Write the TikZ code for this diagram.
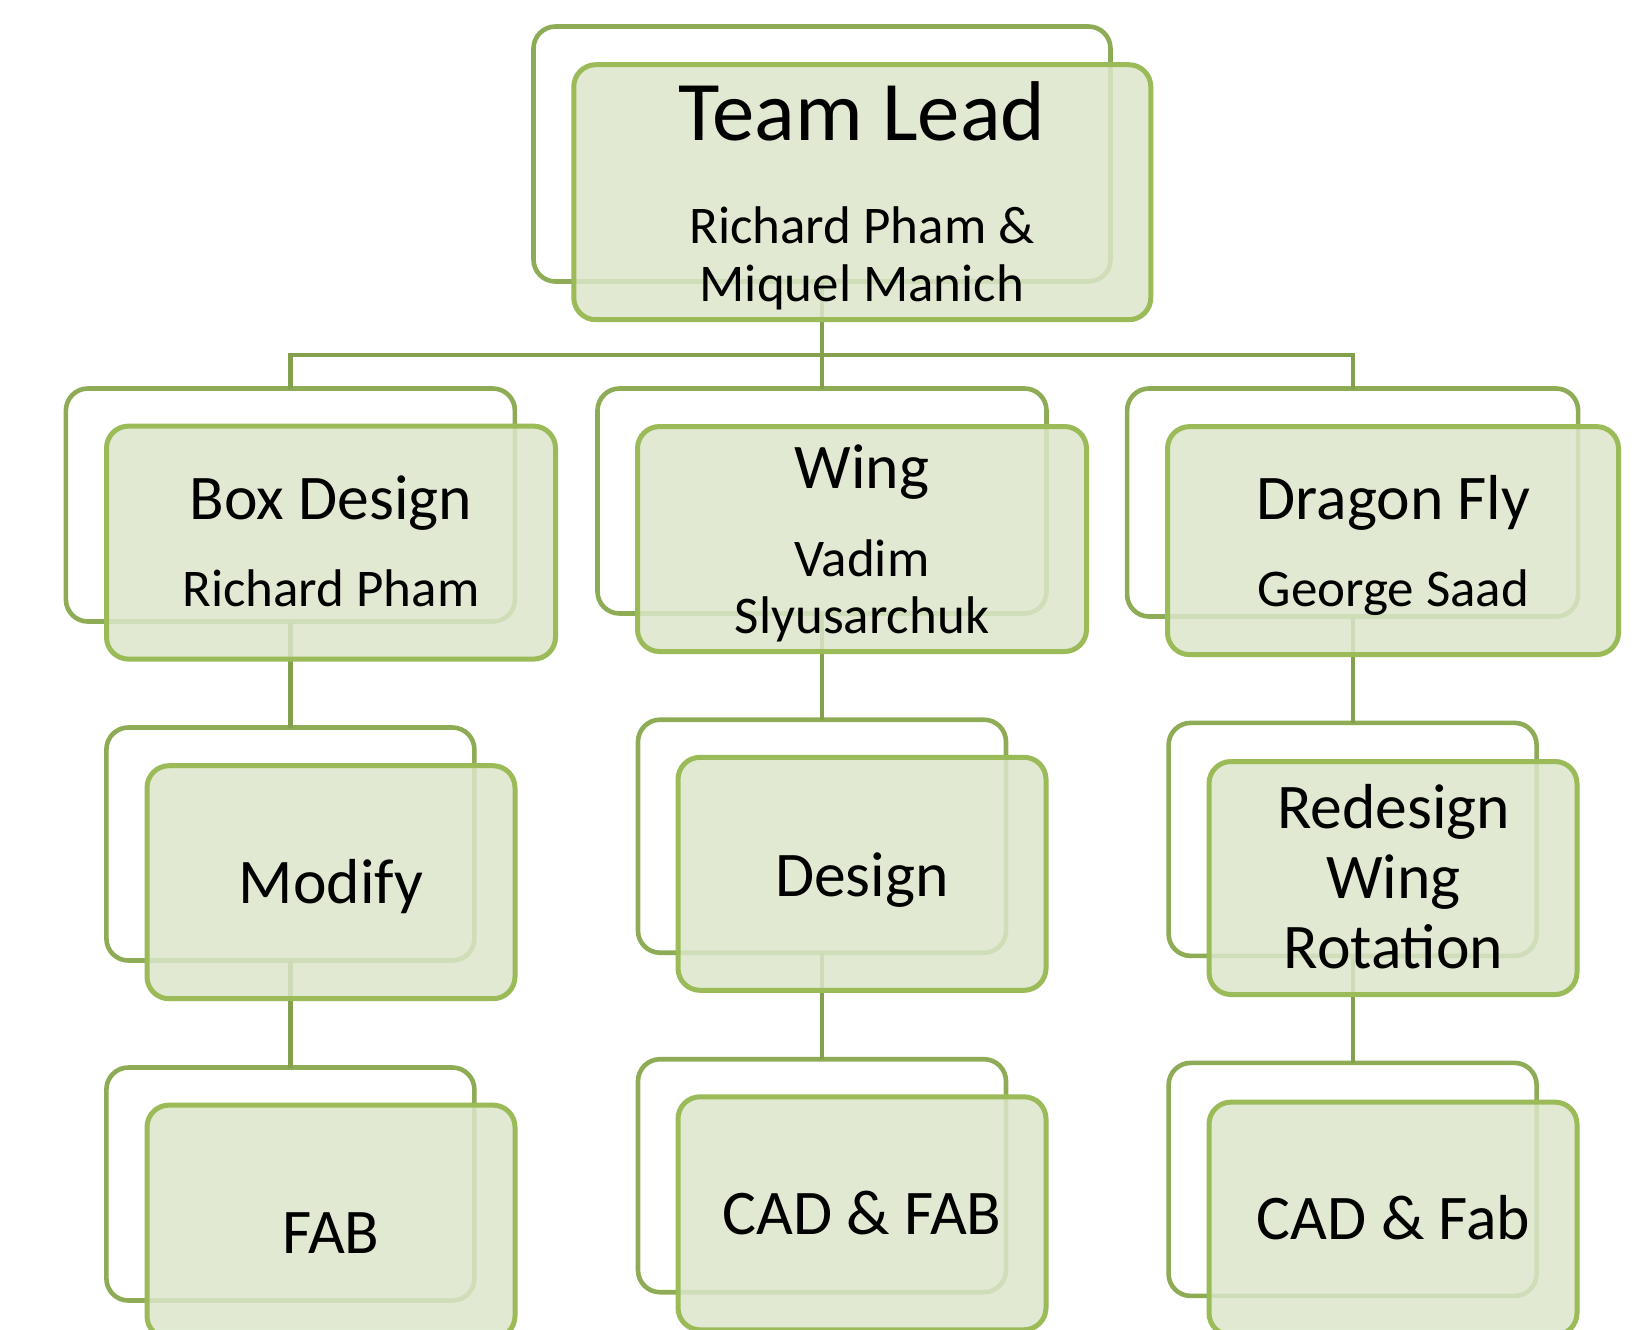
\documentclass[tikz,border=0pt]{standalone}
\usepackage{fontspec}
\setmainfont{Carlito}
\definecolor{frontline}{HTML}{9BBB59}
\definecolor{backline}{HTML}{8EAC55}
\definecolor{connline}{HTML}{84A04D}
\definecolor{frontfill}{HTML}{DCE6CB}
\tikzset{
  backframe/.style={draw=backline, line width=2.3pt, rounded corners=11pt, inner sep=0pt, outer sep=0pt},
  frontbox/.style={draw=frontline, line width=2.5pt, rounded corners=11pt, fill=frontfill, fill opacity=0.85, inner sep=0pt, outer sep=0pt},
  conn/.style={draw=connline, line width=2.1pt},
  toplabel/.style={anchor=base, inner sep=0pt, font=\fontsize{42.4pt}{46pt}\selectfont},
  headlabel/.style={anchor=base, inner sep=0pt, font=\fontsize{31.8pt}{35pt}\selectfont},
  namelabel/.style={anchor=base, inner sep=0pt, font=\fontsize{26.5pt}{29pt}\selectfont},
  wide/.style={minimum width=288.5pt, minimum height=127.5pt},
  mid/.style={minimum width=224.5pt, minimum height=#1},
  small/.style={minimum width=184pt, minimum height=116.5pt}
}
\begin{document}
\begin{tikzpicture}[x=0.5pt, y=-0.5pt]
\clip (0,0) rectangle (1638,1329);
\fill[white] (0,0) rectangle (1638,1329);

% back frames
\node[backframe, wide] (tlB) at (822,154) {};
\node[backframe, mid=116.5pt] (bdB) at (290.4,505) {};
\node[backframe, mid=112.5pt] (wgB) at (822,501) {};
\node[backframe, mid=114pt, minimum width=225.5pt] (dfB) at (1352.6,502.5) {};
\node[backframe, small] (moB) at (290.4,844) {};
\node[backframe, small] (deB) at (822,836.2) {};
\node[backframe, small] (reB) at (1352.6,839.4) {};
\node[backframe, small] (faB) at (290.4,1184) {};
\node[backframe, small] (caB) at (822,1175.7) {};
\node[backframe, small] (cfB) at (1352.6,1179.4) {};

% connectors
\coordinate (bus) at (822,355);
\draw[conn] (tlB.south) -- (wgB.north);
\draw[conn] (bus) -| (bdB.north);
\draw[conn] (bus) -| (dfB.north);
\draw[conn] (bdB.south) -- (moB.north);
\draw[conn] (moB.south) -- (faB.north);
\draw[conn] (wgB.south) -- (deB.north);
\draw[conn] (deB.south) -- (caB.north);
\draw[conn] (dfB.south) -- (reB.north);
\draw[conn] (reB.south) -- (cfB.north);

% front boxes
\node[frontbox, wide] (tl) at (862.3,192.2) {};
\node[frontbox, mid=116.5pt] (bd) at (331,542.6) {};
\node[frontbox, mid=112.5pt] (wg) at (862,539) {};
\node[frontbox, mid=114pt, minimum width=225.5pt] (df) at (1393,540.6) {};
\node[frontbox, small] (mo) at (331,882.2) {};
\node[frontbox, small] (de) at (862,873.8) {};
\node[frontbox, small] (re) at (1393,878) {};
\node[frontbox, small] (fa) at (331,1221.6) {};
\node[frontbox, small] (ca) at (862,1213.3) {};
\node[frontbox, small] (cf) at (1393,1218.6) {};

% labels
\node[toplabel] (tlA) at (862,140) {Team Lead};
\node[namelabel] (tlN1) at (862,243.5) {Richard Pham \&};
\node[namelabel] (tlN2) at (862,301.7) {Miquel Manich};

\node[headlabel] (bdA) at (331,519.5) {Box Design};
\node[namelabel] (bdN) at (331,606.5) {Richard Pham};

\node[headlabel] (wgA) at (862,488) {Wing};
\node[namelabel] (wgN1) at (862,576.6) {Vadim};
\node[namelabel] (wgN2) at (862,633) {Slyusarchuk};

\node[headlabel] (dfA) at (1393.5,519) {Dragon Fly};
\node[namelabel] (dfN) at (1393.5,606) {George Saad};

\node[headlabel] (moA) at (331,903.6) {Modify};
\node[headlabel] (deA) at (862,896) {Design};
\node[headlabel] (reA1) at (1393.5,828) {Redesign};
\node[headlabel] (reA2) at (1393.5,898) {Wing};
\node[headlabel] (reA3) at (1393.5,968) {Rotation};

\node[headlabel] (faA) at (331,1253.5) {FAB};
\node[headlabel] (caA) at (862,1234.7) {CAD \& FAB};
\node[headlabel] (cfA) at (1393.5,1239) {CAD \& Fab};
\end{tikzpicture}
\end{document}
